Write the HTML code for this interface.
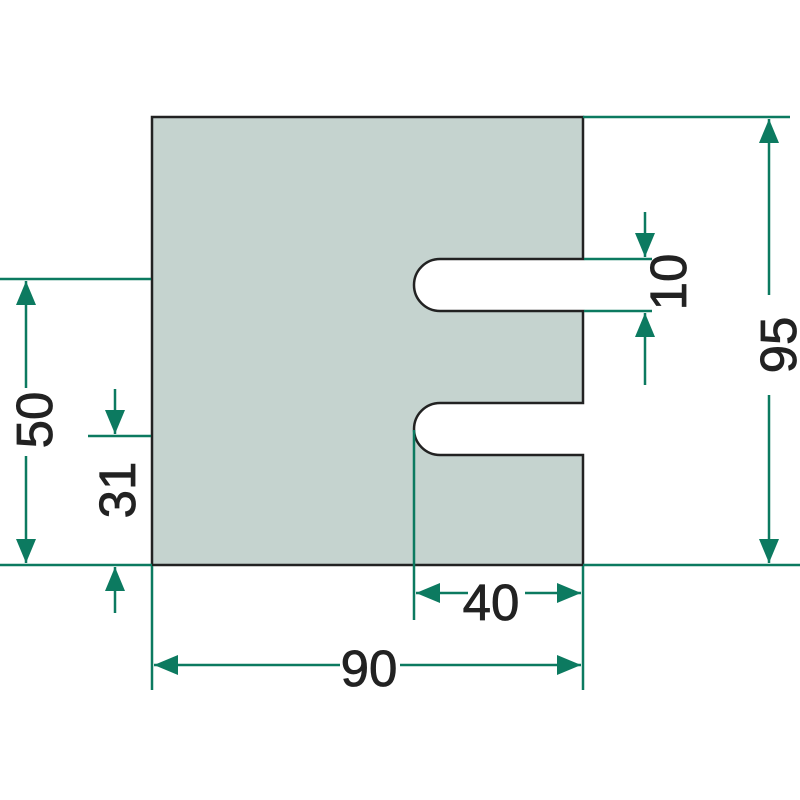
<!DOCTYPE html>
<html><head><meta charset="utf-8"><style>html,body{margin:0;padding:0;background:#fff}svg{display:block}</style></head>
<body>
<svg width="800" height="800" viewBox="0 0 800 800" xmlns="http://www.w3.org/2000/svg">
<defs>
<marker id="a" viewBox="0 0 24 20" refX="24" refY="10" markerWidth="24" markerHeight="20" markerUnits="userSpaceOnUse" orient="auto-start-reverse">
<path d="M0,0 L24,10 L0,20 Z" fill="#0c7a60"/>
</marker>
</defs>
<path d="M152,117 H583 V259 H440 A26,26 0 0 0 440,311 H583 V403 H440 A26,26 0 0 0 440,455 H583 V565 H152 Z" fill="#c5d3cf" stroke="#222" stroke-width="2.5"/>
<g stroke="#0c7a60" stroke-width="2.5" fill="none">
<line x1="0" y1="565" x2="152" y2="565"/>
<line x1="583" y1="565" x2="800" y2="565"/>
<line x1="583" y1="117" x2="790" y2="117"/>
<line x1="0" y1="279" x2="151" y2="279"/>
<line x1="88" y1="436" x2="151" y2="436"/>
<line x1="584" y1="259" x2="652" y2="259"/>
<line x1="584" y1="311" x2="652" y2="311"/>
<line x1="414" y1="430" x2="414" y2="620"/>
<line x1="583" y1="566" x2="583" y2="690"/>
<line x1="152" y1="566" x2="152" y2="690"/>
<line x1="769" y1="295" x2="769" y2="119" marker-end="url(#a)"/>
<line x1="769" y1="395" x2="769" y2="563" marker-end="url(#a)"/>
<line x1="26" y1="388" x2="26" y2="281" marker-end="url(#a)"/>
<line x1="26" y1="456" x2="26" y2="563" marker-end="url(#a)"/>
<line x1="115" y1="389" x2="115" y2="434" marker-end="url(#a)"/>
<line x1="115" y1="613" x2="115" y2="567" marker-end="url(#a)"/>
<line x1="645" y1="212" x2="645" y2="257" marker-end="url(#a)"/>
<line x1="645" y1="385" x2="645" y2="313" marker-end="url(#a)"/>
<line x1="468" y1="593" x2="416" y2="593" marker-end="url(#a)"/>
<line x1="525" y1="593" x2="581" y2="593" marker-end="url(#a)"/>
<line x1="340" y1="665" x2="154" y2="665" marker-end="url(#a)"/>
<line x1="400" y1="665" x2="581" y2="665" marker-end="url(#a)"/>
</g>
<g font-family="Liberation Sans, sans-serif" font-size="51" fill="#222" stroke="#222" stroke-width="0.8" text-anchor="middle">
<text x="491" y="620">40</text>
<text x="369" y="686">90</text>
<text transform="translate(796,345) rotate(-90)">95</text>
<text transform="translate(52,420) rotate(-90)">50</text>
<text transform="translate(135,490) rotate(-90)">31</text>
<text transform="translate(686,282) rotate(-90)">10</text>
</g>
</svg>
</body></html>
